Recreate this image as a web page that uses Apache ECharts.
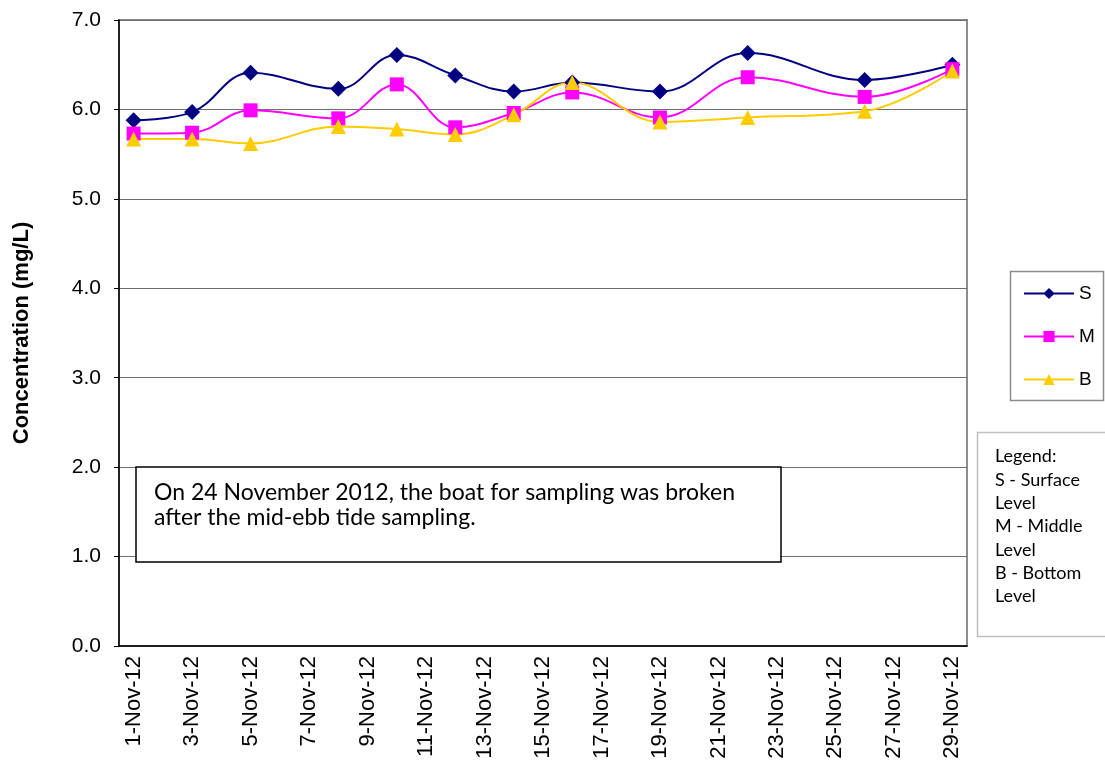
<!DOCTYPE html>
<html>
<head>
<meta charset="utf-8">
<title>DO concentration</title>
<script src="https://cdn.jsdelivr.net/npm/echarts@6/dist/echarts.min.js"></script>
<style>
  html, body { margin: 0; padding: 0; background: #fff; }
  #myChart { width: 1105px; height: 769px; }
</style>
</head>
<body>
<div id="myChart"></div>
<script>
// x axis categories (one per day)
var days = [
  "1-Nov-12", "2-Nov-12", "3-Nov-12", "4-Nov-12", "5-Nov-12", "6-Nov-12",
  "7-Nov-12", "8-Nov-12", "9-Nov-12", "10-Nov-12", "11-Nov-12", "12-Nov-12",
  "13-Nov-12", "14-Nov-12", "15-Nov-12", "16-Nov-12", "17-Nov-12", "18-Nov-12",
  "19-Nov-12", "20-Nov-12", "21-Nov-12", "22-Nov-12", "23-Nov-12", "24-Nov-12",
  "25-Nov-12", "26-Nov-12", "27-Nov-12", "28-Nov-12", "29-Nov-12"
];
// sampling dates
var sampleDays = [
  "1-Nov-12", "3-Nov-12", "5-Nov-12", "8-Nov-12", "10-Nov-12", "12-Nov-12",
  "14-Nov-12", "16-Nov-12", "19-Nov-12", "22-Nov-12", "26-Nov-12", "29-Nov-12"
];
// S - surface, M - middle, B - bottom
var surface = [5.88, 5.97, 6.41, 6.23, 6.61, 6.38, 6.20, 6.30, 6.20, 6.63, 6.33, 6.50];
var middle  = [5.73, 5.74, 5.99, 5.90, 6.28, 5.80, 5.96, 6.19, 5.91, 6.36, 6.14, 6.45];
var bottom  = [5.67, 5.67, 5.62, 5.81, 5.78, 5.72, 5.94, 6.30, 5.86, 5.91, 5.98, 6.43];

var noteText = "On 24 November 2012, the boat for sampling was broken\nafter the mid-ebb tide sampling.";
var legendNote = "Legend:\nS - Surface\nLevel\nM - Middle\nLevel\nB - Bottom\nLevel";

function pairs(vals) {
  return sampleDays.map(function (d, i) { return [d, vals[i]]; });
}

var font = "Liberation Sans, Arial, sans-serif";
var boxFont = "Lato, Liberation Sans, sans-serif";
var mycharts = echarts.init(document.getElementById("myChart"));

var option = {
  animation: false,
  textStyle: { fontFamily: font },
  grid: {
    left: 119, top: 20, right: 138, bottom: 123,
    show: true, borderColor: "#8c8c8c", borderWidth: 2
  },
  legend: {
    data: ["S", "M", "B"],
    orient: "vertical",
    left: 1023, top: 284, padding: 0,
    itemWidth: 50, itemHeight: 14, itemGap: 24,
    textStyle: { fontSize: 19, color: "#000", fontFamily: font }
  },
  xAxis: {
    type: "category",
    data: days,
    boundaryGap: true,
    axisLine: { lineStyle: { color: "#000", width: 1.5 } },
    axisTick: { interval: 1, length: 6, lineStyle: { color: "#808080" } },
    axisLabel: { interval: 1, rotate: 90, margin: 10, fontSize: 22, color: "#000" },
    splitLine: { show: false }
  },
  yAxis: {
    type: "value",
    min: 0, max: 7, interval: 1,
    name: "Concentration (mg/L)",
    nameLocation: "middle",
    nameRotate: 90,
    nameGap: 86,
    nameTextStyle: { fontSize: 22, fontWeight: "bold", color: "#000" },
    axisLine: { show: true, lineStyle: { color: "#000", width: 1.5 } },
    axisTick: { show: true, length: 5, lineStyle: { color: "#000" } },
    axisLabel: { fontSize: 21, color: "#000", margin: 18, formatter: function (v) { return v.toFixed(1); } },
    splitLine: { lineStyle: { color: "#6e6e6e", width: 1 } }
  },
  series: [
    {
      name: "S", type: "line", smooth: 0.4,
      data: pairs(surface),
      symbol: "diamond", symbolSize: 16,
      lineStyle: { color: "#000080", width: 2 },
      itemStyle: { color: "#000080" }
    },
    {
      name: "M", type: "line", smooth: 0.4,
      data: pairs(middle),
      symbol: "rect", symbolSize: 14,
      lineStyle: { color: "#ff00ff", width: 2 },
      itemStyle: { color: "#ff00ff" }
    },
    {
      name: "B", type: "line", smooth: 0.4,
      data: pairs(bottom),
      symbol: "triangle", symbolSize: 15,
      lineStyle: { color: "#ffcc00", width: 2 },
      itemStyle: { color: "#ffcc00" }
    }
  ],
  graphic: [
    // legend frame
    {
      type: "rect", z: 0,
      shape: { x: 1010.5, y: 271.5, width: 93, height: 129 },
      style: { fill: "#fff", stroke: "#8c8c8c", lineWidth: 1.5 }
    },
    // note box
    {
      type: "rect", z: 10,
      shape: { x: 136, y: 467, width: 645, height: 95 },
      style: { fill: "#fff", stroke: "#000", lineWidth: 1.5 }
    },
    {
      type: "text", z: 11, left: 154, top: 480,
      style: { text: noteText, font: "23px " + boxFont, fill: "#000", lineHeight: 25 }
    },
    // legend explanation box
    {
      type: "rect", z: 10,
      shape: { x: 977.5, y: 432.5, width: 130, height: 204 },
      style: { fill: "#fff", stroke: "#c0c0c0", lineWidth: 1.5 }
    },
    {
      type: "text", z: 11, left: 995, top: 445,
      style: { text: legendNote, font: "18px " + boxFont, fill: "#000", lineHeight: 23.3 }
    }
  ]
};
mycharts.setOption(option);
</script>
</body>
</html>
